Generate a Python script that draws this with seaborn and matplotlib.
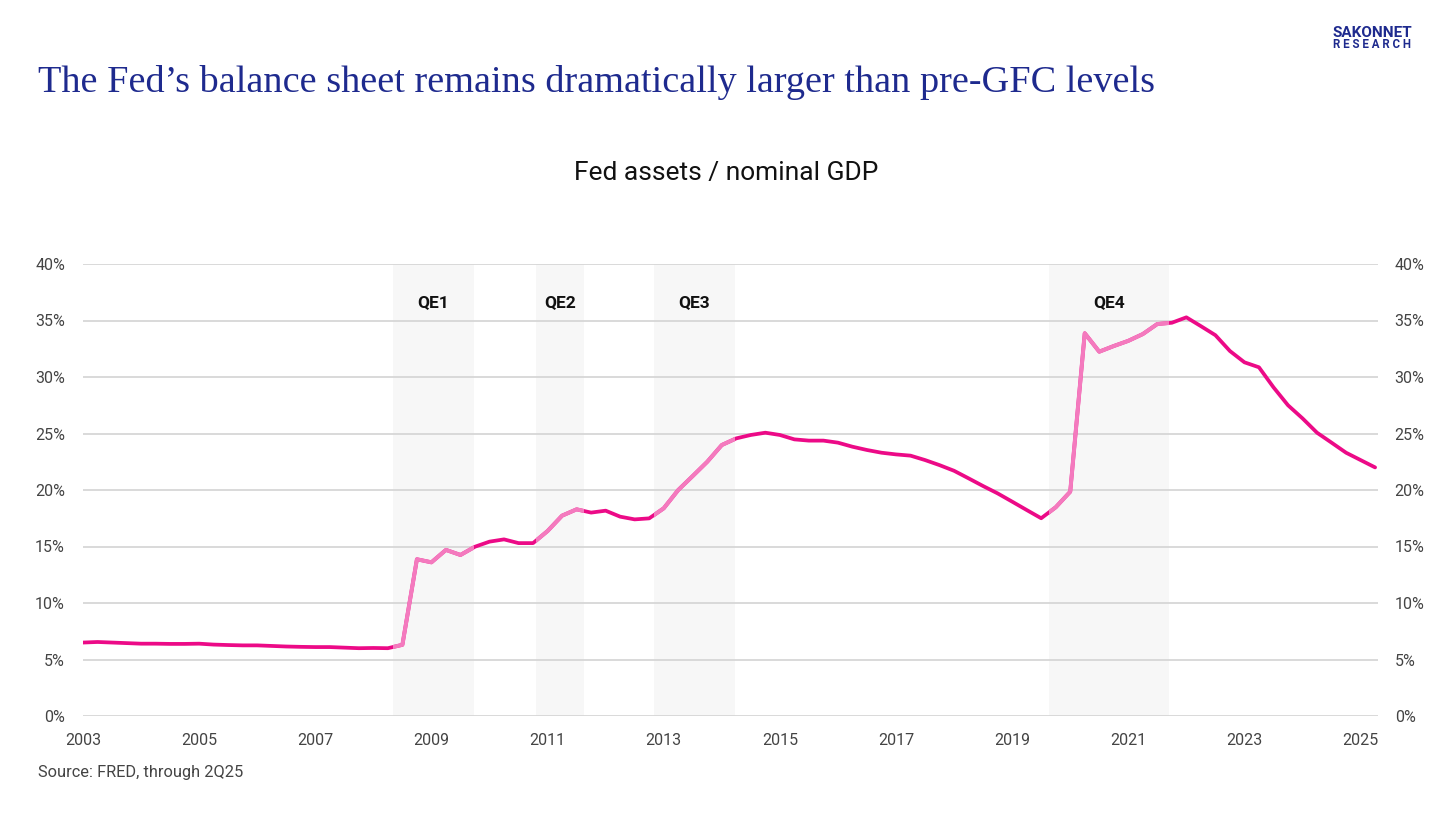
import matplotlib
matplotlib.use("Agg")
import matplotlib.pyplot as plt
import matplotlib.ticker as mticker
import seaborn as sns
import pandas as pd
import numpy as np

# ---------------- data ----------------
start_year = 2003.0
ratio_pct = [
    6.50, 6.55, 6.50, 6.45,      # 2003
    6.40, 6.40, 6.38, 6.38,      # 2004
    6.40, 6.32, 6.28, 6.25,      # 2005
    6.25, 6.20, 6.15, 6.12,      # 2006
    6.10, 6.10, 6.05, 6.00,      # 2007
    6.02, 6.00, 6.30, 13.87,     # 2008
    13.60, 14.70, 14.25, 14.98,  # 2009
    15.43, 15.63, 15.30, 15.30,  # 2010
    16.37, 17.73, 18.29, 18.00,  # 2011
    18.17, 17.64, 17.40, 17.49,  # 2012
    18.38, 20.00, 21.24, 22.50,  # 2013
    23.98, 24.57, 24.87, 25.07,  # 2014
    24.87, 24.48, 24.37, 24.37,  # 2015
    24.19, 23.83, 23.54, 23.30,  # 2016
    23.15, 23.04, 22.65, 22.20,  # 2017
    21.70, 21.03, 20.35, 19.70,  # 2018
    18.97, 18.23, 17.50, 18.47,  # 2019
    19.85, 33.87, 32.24, 32.74,  # 2020
    33.20, 33.80, 34.69, 34.80,  # 2021
    35.28, 34.50, 33.70, 32.30,  # 2022
    31.30, 30.86, 29.09, 27.50,  # 2023
    26.34, 25.07, 24.19, 23.30,  # 2024
    22.65, 22.00,                # 2025
]
qe_labels = ["QE1", "QE2", "QE3", "QE4"]
qe_starts = [2008.34, 2010.80, 2012.83, 2019.64]
qe_ends = [2009.73, 2011.63, 2014.23, 2021.70]
x_ticks = [2003, 2005, 2007, 2009, 2011, 2013, 2015, 2017, 2019, 2021, 2023, 2025]
y_ticks = [0, 0.05, 0.10, 0.15, 0.20, 0.25, 0.30, 0.35, 0.40]

dates = [start_year + 0.25 * i for i in range(len(ratio_pct))]
df = pd.DataFrame({"date": dates, "ratio": [v / 100 for v in ratio_pct]})

# ---------------- style ----------------
sns.set_theme(style="white")
plt.rcParams["font.family"] = ["Roboto", "DejaVu Sans"]

DARK_PINK = "#EC0A87"
LIGHT_PINK = "#F47ABE"
NAVY = "#1E2A8E"
GRID = "#D3D3D3"
SHADE = "#F7F7F7"
TICK = "#444444"

fig = plt.figure(figsize=(14.56, 8.19), dpi=100)
ax = fig.add_axes([83 / 1456, 1 - 716 / 819, (1378 - 83) / 1456, (716 - 264) / 819])

# shading
for lab, s, e in zip(qe_labels, qe_starts, qe_ends):
    ax.axvspan(s, e, color=SHADE, zorder=0, lw=0)
    ax.text((s + e) / 2, 0.366, lab, ha="center", va="center",
            fontsize=12.5, fontweight="bold", color="#111111", zorder=5)

# main line
sns.lineplot(data=df, x="date", y="ratio", ax=ax, color=DARK_PINK, lw=2.7, zorder=3)

# light overlays inside QE windows
for s, e in zip(qe_starts, qe_ends):
    sns.lineplot(data=df, x="date", y="ratio", ax=ax, color=LIGHT_PINK, lw=2.9, zorder=4)
    ln = ax.lines[-1]
    rect = plt.Rectangle((s, -1), e - s, 3, transform=ax.transData, visible=False)
    ax.add_patch(rect)
    ln.set_clip_path(rect)

ax.set_xlim(2003, 2025.3)
ax.set_ylim(0, 0.40)
ax.set_xticks(x_ticks)
ax.set_yticks(y_ticks)
ax.yaxis.set_major_formatter(mticker.PercentFormatter(1.0, decimals=0))
ax.grid(axis="y", color=GRID, lw=1.2)
ax.set_axisbelow(True)
ax.set_xlabel("")
ax.set_ylabel("")
for sp in ax.spines.values():
    sp.set_visible(False)
ax.tick_params(axis="x", length=0, pad=12, labelsize=11.5, labelcolor=TICK)
ax.tick_params(axis="y", length=0, pad=13, labelsize=11.5, labelcolor=TICK)

ax2 = ax.twinx()
ax2.set_ylim(0, 0.40)
ax2.set_yticks(y_ticks)
ax2.yaxis.set_major_formatter(mticker.PercentFormatter(1.0, decimals=0))
for sp in ax2.spines.values():
    sp.set_visible(False)
ax2.tick_params(axis="y", length=0, pad=12, labelsize=11.5, labelcolor=TICK)
ax2.grid(False)

# texts
fig.text(38 / 1456, 1 - 83 / 819,
         "The Fed\u2019s balance sheet remains dramatically larger than pre-GFC levels",
         family=["Liberation Serif", "DejaVu Serif"], fontsize=27.5, color=NAVY,
         ha="left", va="center")
fig.text(726 / 1456, 1 - 173 / 819, "Fed assets / nominal GDP", fontsize=19,
         color="#111111", ha="center", va="center")
fig.text(38 / 1456, 1 - 773 / 819, "Source: FRED, through 2Q25", fontsize=11.8,
         color=TICK, ha="left", va="center")
fig.text(1372 / 1456, 1 - 33 / 819, "SAKONNET", fontsize=11, fontweight="bold",
         color=NAVY, ha="center", va="center")
fig.text(1372 / 1456, 1 - 44.5 / 819, "R E S E A R C H", fontsize=8.3, fontweight="bold",
         color=NAVY, ha="center", va="center")

fig.savefig("out.png", dpi=100)
